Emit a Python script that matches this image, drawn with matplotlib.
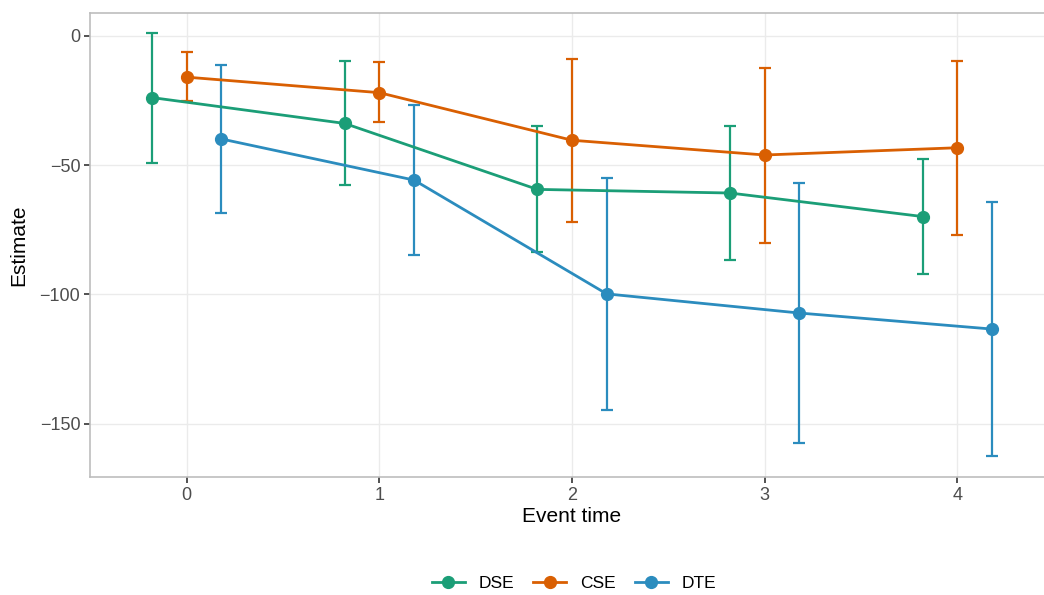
import matplotlib.pyplot as plt
import numpy as np

plt.rcParams['font.family'] = ['Liberation Sans', 'DejaVu Sans']

event_time = np.array([0, 1, 2, 3, 4])

dse_est = [-23.9, -33.9, -59.4, -60.8, -69.9]
dse_lo = [-49.1, -57.8, -83.6, -86.8, -92.2]
dse_hi = [0.9, -9.9, -35.0, -35.0, -47.8]

cse_est = [-16.0, -22.0, -40.4, -46.1, -43.3]
cse_lo = [-25.1, -33.5, -71.9, -80.1, -77.0]
cse_hi = [-6.4, -10.2, -9.0, -12.5, -9.8]

dte_est = [-39.9, -55.8, -99.8, -107.2, -113.4]
dte_lo = [-68.5, -84.8, -144.8, -157.4, -162.6]
dte_hi = [-11.3, -26.9, -55.0, -57.1, -64.1]

series = [
    ('DSE', dse_est, dse_lo, dse_hi, '#1b9e77', -0.18),
    ('CSE', cse_est, cse_lo, cse_hi, '#d95f02', 0.0),
    ('DTE', dte_est, dte_lo, dte_hi, '#2b8cbe', 0.18),
]

fig = plt.figure(figsize=(10.44, 5.95), dpi=100)
ax = fig.add_axes([90 / 1044, 118 / 595, (1054 - 90) / 1044, 464 / 595])

for name, est, lo, hi, col, off in series:
    est = np.array(est)
    x = event_time + off
    yerr = [est - np.array(lo), np.array(hi) - est]
    ax.errorbar(x, est, yerr=yerr, fmt='none', ecolor=col, elinewidth=1.6,
                capsize=4, capthick=1.6, zorder=3)
    ax.plot(x, est, color=col, lw=2, marker='o', ms=8.5, label=name, zorder=4)

ax.set_xlim(-0.502, 4.502)
ax.set_ylim(-170.6, 8.8)
ax.set_xticks(event_time)
ax.set_yticks([0, -50, -100, -150])
ax.set_yticklabels(['0', '\u221250', '\u2212100', '\u2212150'])
ax.grid(True, color='#ebebeb', lw=1)
ax.set_axisbelow(True)
for s in ax.spines.values():
    s.set_color('#bdbdbd')
    s.set_linewidth(1.2)
ax.tick_params(colors='#333333', labelsize=13, length=4, width=1.2, pad=3)
ax.tick_params(labelcolor='#4d4d4d')

ax.set_xlabel('Event time', fontsize=15, labelpad=2)
ax.set_ylabel('Estimate', fontsize=15, labelpad=8)

fig.legend(loc='center', bbox_to_anchor=(574 / 1044, 1 - 583 / 595), ncol=3,
           frameon=False, fontsize=12.5, handlelength=1.9, columnspacing=1.1,
           handletextpad=0.8)

fig.savefig('out.png', dpi=100)
